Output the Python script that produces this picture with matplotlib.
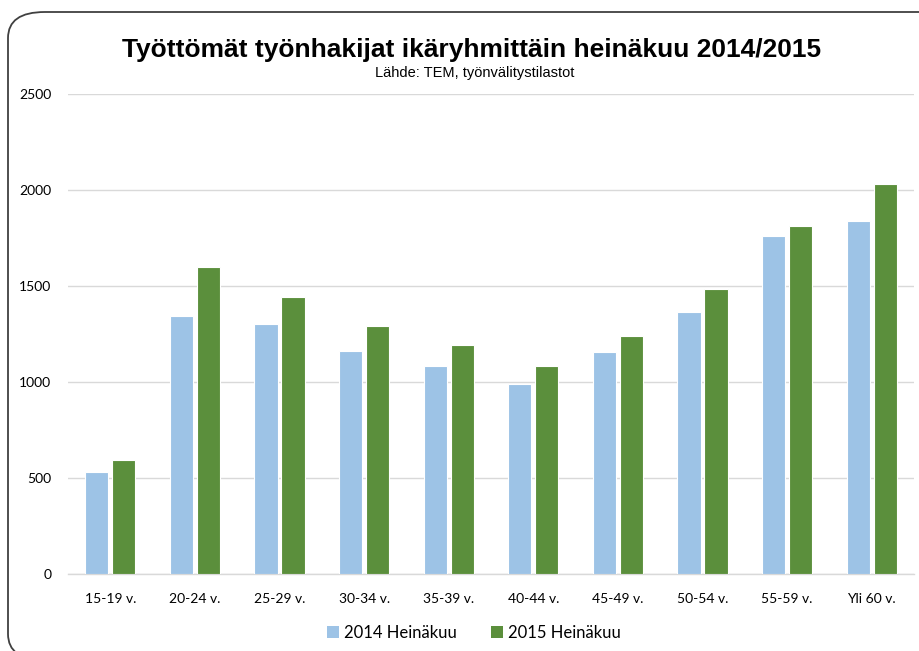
import numpy as np
import matplotlib.pyplot as plt
from matplotlib.patches import FancyBboxPatch, Patch

# Ikäryhmät ja arvot (luettu kuvasta)
ryhmat = ['15-19 v.', '20-24 v.', '25-29 v.', '30-34 v.', '35-39 v.',
          '40-44 v.', '45-49 v.', '50-54 v.', '55-59 v.', 'Yli 60 v.']
v2014 = [532, 1343, 1300, 1163, 1085, 988, 1156, 1366, 1761, 1837]
v2015 = [596, 1600, 1445, 1291, 1194, 1081, 1241, 1482, 1813, 2033]
nimet = ['2014 Heinäkuu', '2015 Heinäkuu']

sininen = '#9DC3E6'
vihrea = '#5B8F3C'

W, H = 919, 651
fig = plt.figure(figsize=(W / 100, H / 100), dpi=100)

# pyöristetty kehys
kehys = FancyBboxPatch((8 / W, 1 - 660 / H), 960 / W, 648 / H,
                       boxstyle='round,pad=0,rounding_size=0.04',
                       transform=fig.transFigure, fill=False,
                       edgecolor='#404040', linewidth=1.3, clip_on=False)
fig.patches.append(kehys)

ax = fig.add_axes([68 / W, (H - 574) / H, 846 / W, 480 / H])
x = np.arange(len(ryhmat))
lev = 0.275
ax.bar(x - 0.16, v2014, lev, color=sininen, edgecolor='white', linewidth=0.8, zorder=3)
ax.bar(x + 0.16, v2015, lev, color=vihrea, edgecolor='white', linewidth=0.8, zorder=3)

ax.set_xlim(-0.5, len(ryhmat) - 0.5)
ax.set_ylim(0, 2500)
ax.set_yticks(range(0, 2501, 500))
ax.grid(axis='y', color='#D9D9D9', linewidth=1, zorder=0)
for s in ['top', 'right', 'left']:
    ax.spines[s].set_visible(False)
ax.spines['bottom'].set_color('#D9D9D9')
ax.spines['bottom'].set_linewidth(1)
ax.tick_params(length=0, labelsize=10, colors='#000000')
ax.tick_params(axis='x', pad=14)
ax.tick_params(axis='y', pad=12)
ax.set_xticks(x)
ax.set_xticklabels(ryhmat, fontfamily='Lato')
for t in ax.get_yticklabels():
    t.set_fontfamily('Lato')

fig.text(472 / W, 1 - 57 / H, 'Työttömät työnhakijat ikäryhmittäin heinäkuu 2014/2015',
         ha='center', va='baseline', fontsize=19, fontweight='bold',
         fontfamily='Liberation Sans')
fig.text(475 / W, 1 - 77 / H, 'Lähde: TEM, työnvälitystilastot',
         ha='center', va='baseline', fontsize=10.5, fontfamily='Liberation Sans')

kahvat = [Patch(facecolor=sininen), Patch(facecolor=vihrea)]
fig.legend(kahvat, nimet, loc='center', bbox_to_anchor=(474 / W, 1 - 633 / H),
           ncol=2, frameon=False, prop={'family': 'Lato', 'size': 12},
           handlelength=0.75, handleheight=0.75, handletextpad=0.3,
           columnspacing=2.0)

fig.savefig('out.png', dpi=100)
